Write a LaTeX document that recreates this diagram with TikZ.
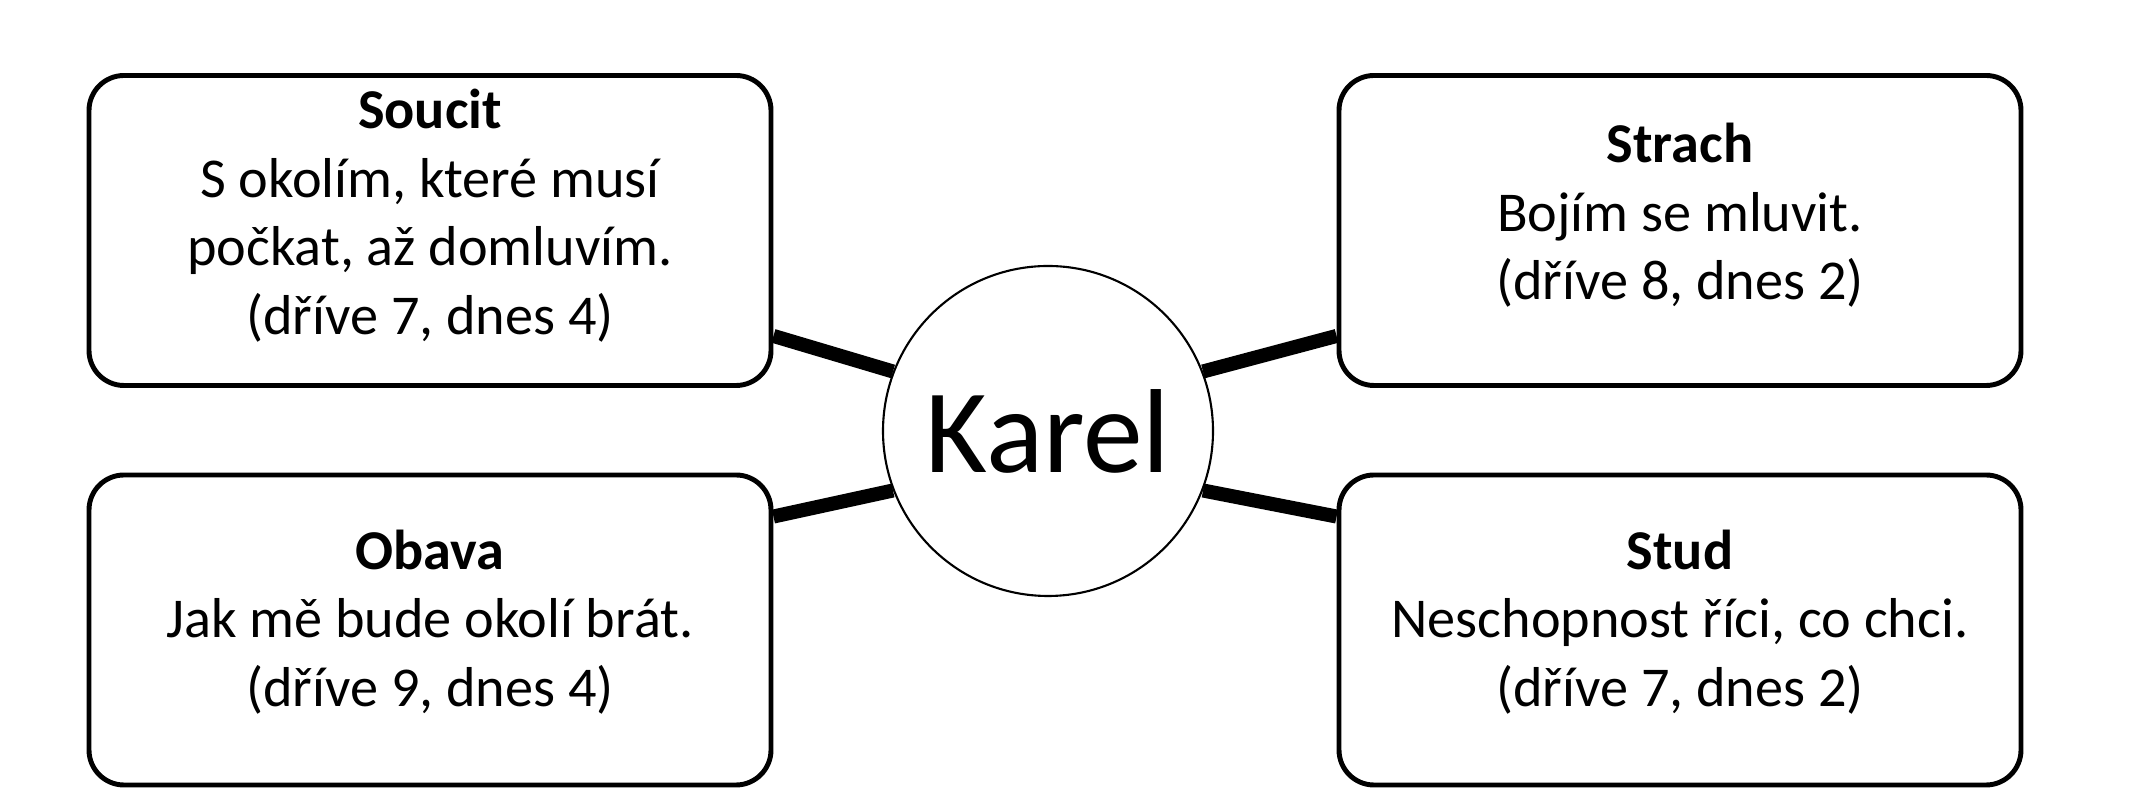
\documentclass[tikz,border=0pt]{standalone}
\usepackage{fontspec}
\setmainfont{Carlito}
\begin{document}
\begin{tikzpicture}[
  box/.style={draw, line width=1.4pt, rounded corners=0.35cm, minimum width=6.82cm, minimum height=3.1cm, inner sep=0pt},
  txt/.style={align=center, font=\fontsize{16}{19.5}\selectfont, inner sep=0pt},
  link/.style={line width=4pt}
]
\useasboundingbox (0,0) rectangle (21.3,8);
\node[box] (tl) at (4.30,5.695) {};
\node[box] (bl) at (4.30,1.70) {};
\node[box] (tr) at (16.80,5.695) {};
\node[box] (br) at (16.80,1.70) {};
\node[txt] (tlt) at ([yshift=0.15cm]tl.center) {\textbf{Soucit}\\S okolím, které musí\\počkat, až domluvím.\\(dříve 7, dnes 4)};
\node[txt] (blt) at ([yshift=0.08cm]bl.center) {\textbf{Obava}\\Jak mě bude okolí brát.\\(dříve 9, dnes 4)};
\node[txt] (trt) at ([yshift=0.15cm]tr.center) {\textbf{Strach}\\Bojím se mluvit.\\(dříve 8, dnes 2)};
\node[txt] (brt) at ([yshift=0.08cm]br.center) {\textbf{Stud}\\Neschopnost říci, co chci.\\(dříve 7, dnes 2)};
\node[draw, circle, line width=0.6pt, minimum size=3.3cm, inner sep=0pt, font=\fontsize{34}{36}\selectfont] (k) at (10.48,3.69) {Karel};
\draw[link] ([yshift=0.52cm]tl.south east) -- (k.159);
\draw[link] ([yshift=-0.44cm]bl.north east) -- (k.201);
\draw[link] ([yshift=0.52cm]tr.south west) -- (k.21);
\draw[link] ([yshift=-0.44cm]br.north west) -- (k.-21);
\end{tikzpicture}
\end{document}
